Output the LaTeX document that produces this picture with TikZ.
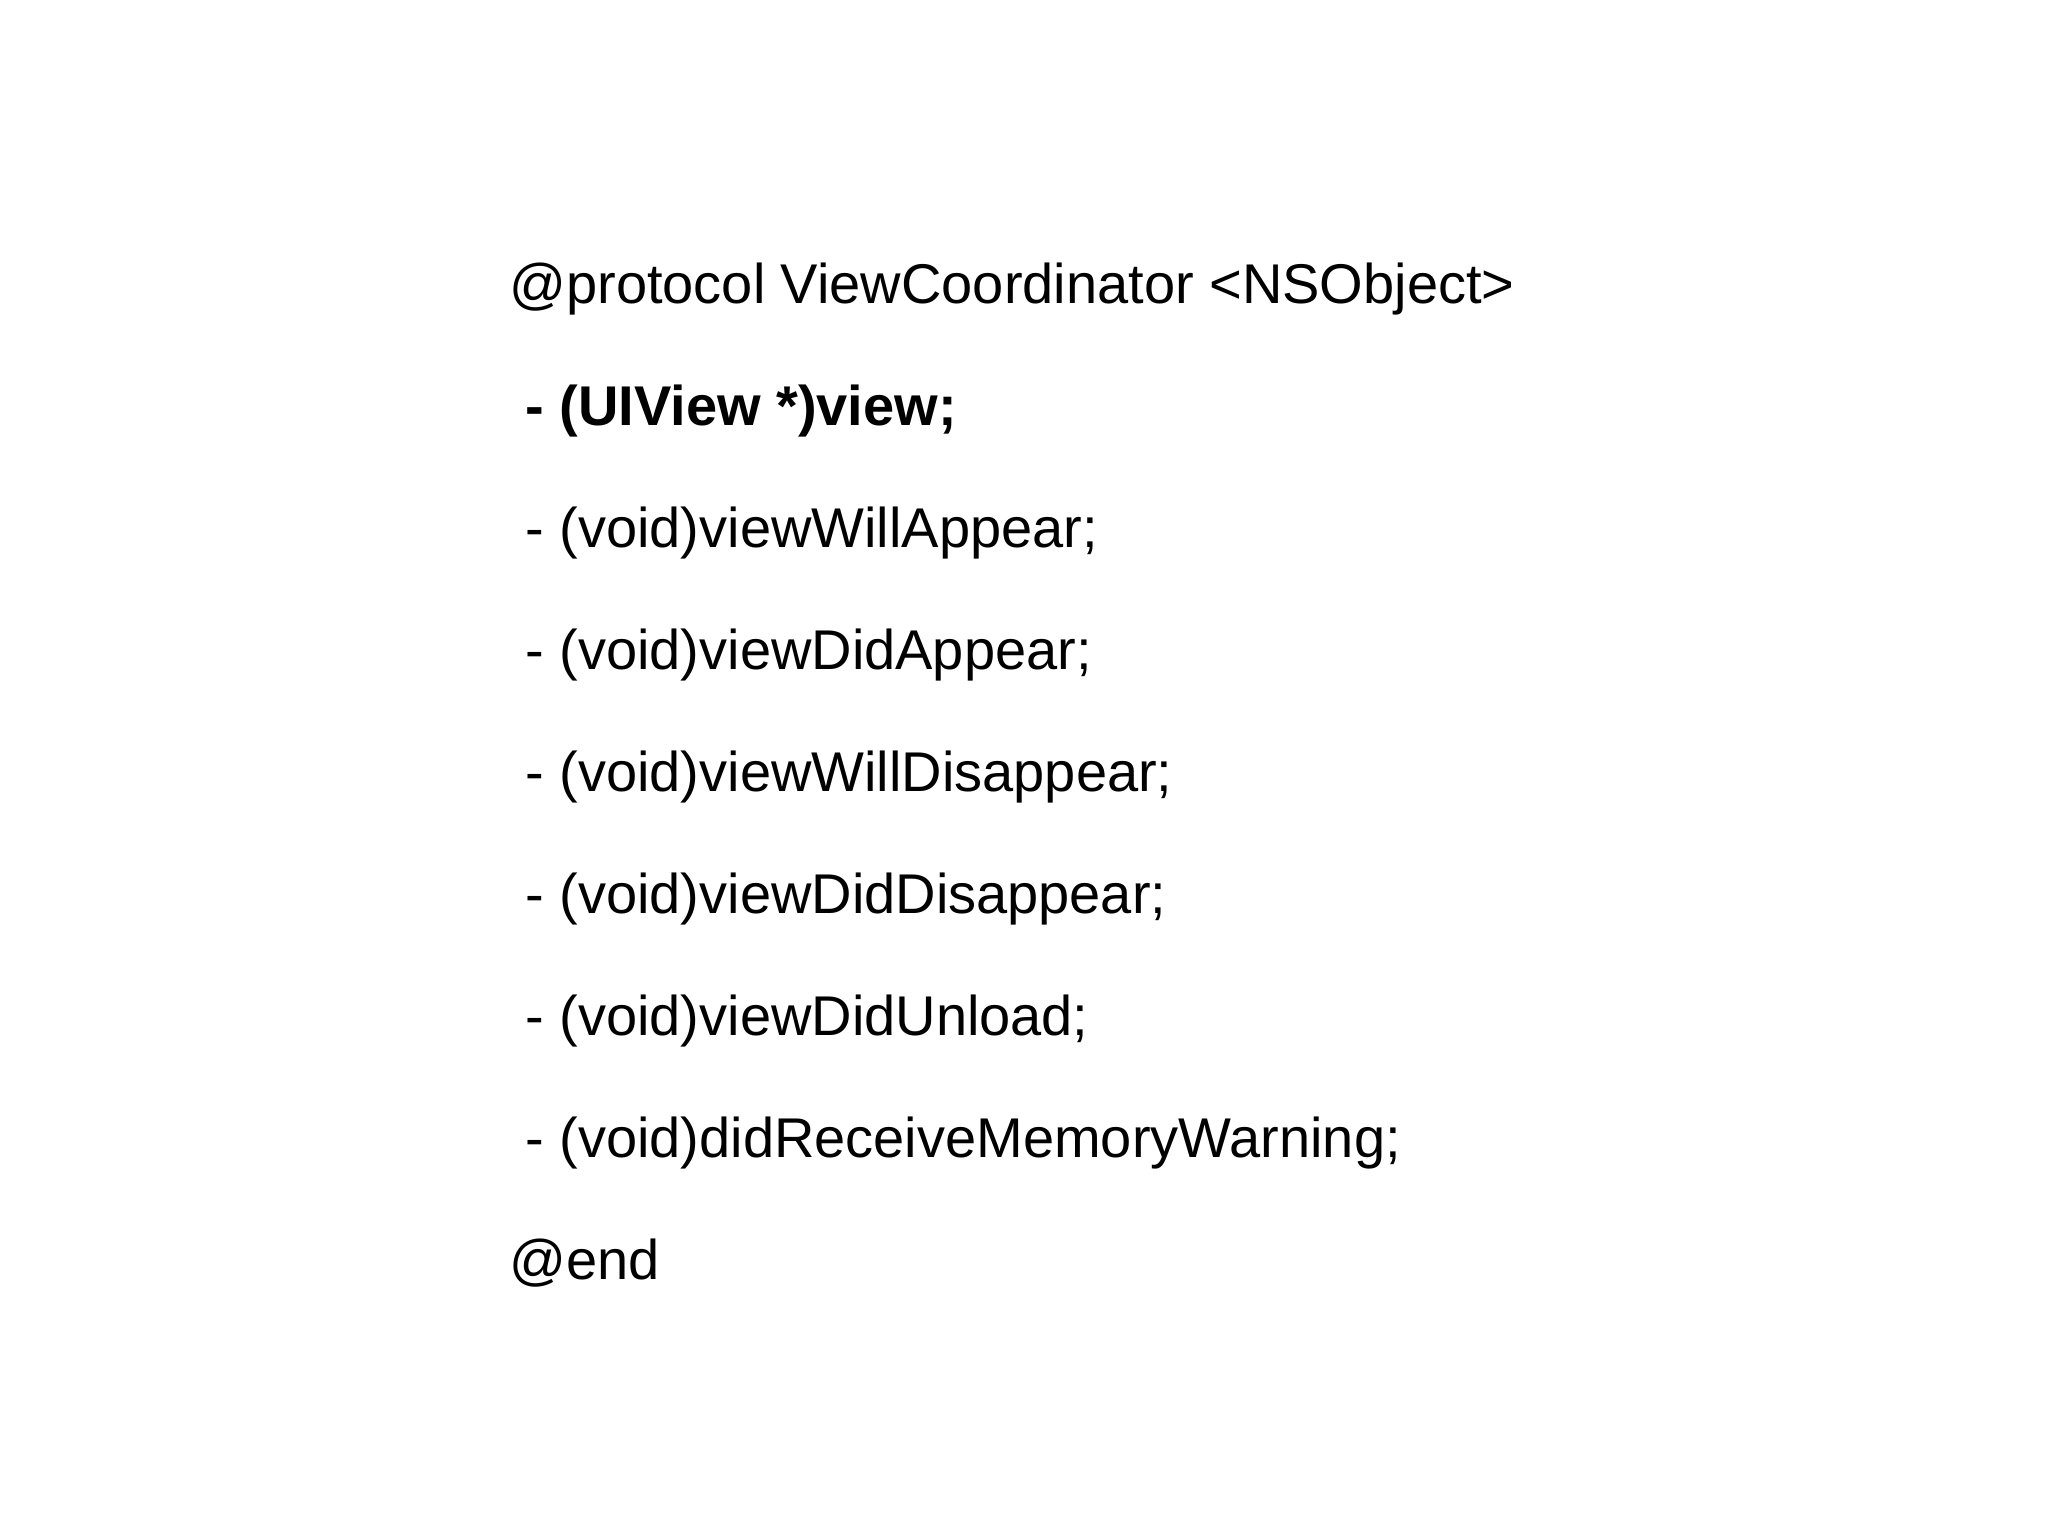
\documentclass[tikz,border=0pt]{standalone}
\usepackage{fontspec}
\setmainfont{Liberation Sans}
\begin{document}
\begin{tikzpicture}[x=1pt,y=1pt,line/.style={anchor=base west,inner sep=0pt,font=\fontsize{28}{30}\selectfont}]
\useasboundingbox[fill=white] (0,0) rectangle (1024,-757.5);
\node[line] (l0) at (254.5,-151.5) {@protocol ViewCoordinator <NSObject>};
\node[line,font=\fontsize{28}{30}\selectfont\bfseries] (l1) at (262.5,-212.5) {- (UIView *)view;};
\node[line] (l2) at (262.5,-273.5) {- (void)viewWillAppear;};
\node[line] (l3) at (262.5,-334.5) {- (void)viewDidAppear;};
\node[line] (l4) at (262.5,-395.5) {- (void)viewWillDisappear;};
\node[line] (l5) at (262.5,-456.5) {- (void)viewDidDisappear;};
\node[line] (l6) at (262.5,-517.5) {- (void)viewDidUnload;};
\node[line] (l7) at (262.5,-578.5) {- (void)didReceiveMemoryWarning;};
\node[line] (l8) at (254.5,-639.5) {@end};
\end{tikzpicture}
\end{document}
